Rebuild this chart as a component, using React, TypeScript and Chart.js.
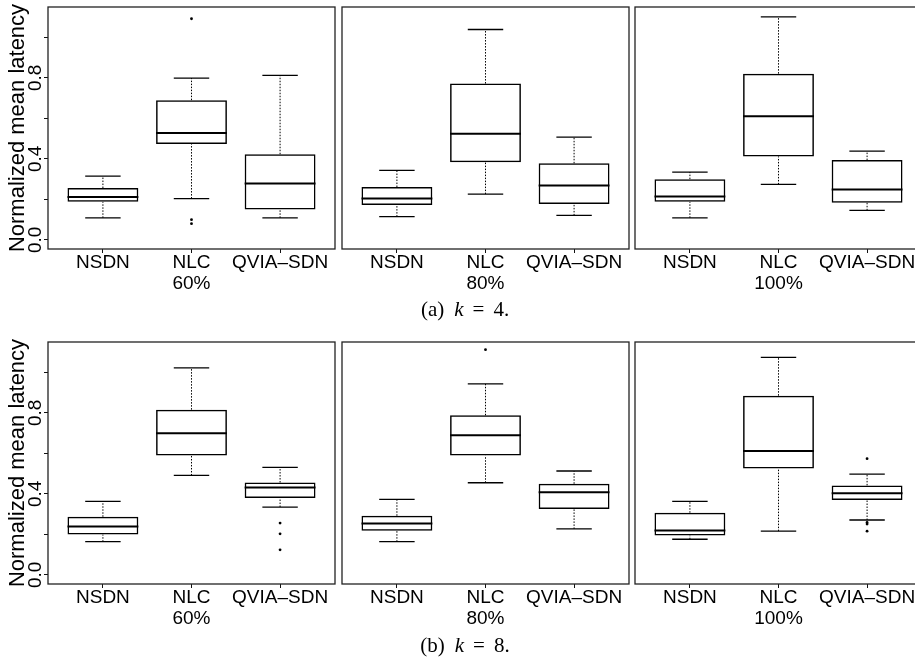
import { useEffect, useRef } from "react"
import { Chart, registerables } from "chart.js"

Chart.register(...registerables)

const SANS = "'Liberation Sans', Arial, Helvetica, sans-serif"
Chart.defaults.font.family = SANS

const groups = ["NSDN", "NLC", "QVIA–SDN"]
const loads = ["60%", "80%", "100%"]
const yTicks = [0, 0.2, 0.4, 0.6, 0.8, 1.0]
const yLabelled = [0, 0.4, 0.8]

// [lower whisker, Q1, median, Q3, upper whisker] for NSDN, NLC, QVIA-SDN
const k4_60 = [
  [0.109, 0.188, 0.212, 0.256, 0.315],
  [0.204, 0.474, 0.528, 0.69, 0.799],
  [0.109, 0.15, 0.278, 0.423, 0.812],
]
const k4_80 = [
  [0.115, 0.172, 0.204, 0.261, 0.343],
  [0.226, 0.383, 0.524, 0.772, 1.039],
  [0.121, 0.177, 0.268, 0.378, 0.507],
]
const k4_100 = [
  [0.109, 0.188, 0.214, 0.3, 0.335],
  [0.274, 0.412, 0.61, 0.821, 1.101],
  [0.146, 0.183, 0.249, 0.394, 0.438],
]
const k8_60 = [
  [0.164, 0.199, 0.239, 0.287, 0.363],
  [0.491, 0.589, 0.7, 0.816, 1.022],
  [0.335, 0.38, 0.432, 0.456, 0.531],
]
const k8_80 = [
  [0.164, 0.218, 0.254, 0.292, 0.373],
  [0.455, 0.589, 0.689, 0.788, 0.943],
  [0.227, 0.325, 0.408, 0.45, 0.513],
]
const k8_100 = [
  [0.176, 0.194, 0.219, 0.307, 0.363],
  [0.216, 0.525, 0.612, 0.885, 1.074],
  [0.271, 0.37, 0.403, 0.442, 0.498],
]

// outliers per group
const k4_60Out = [[], [1.092, 0.1, 0.08], []]
const k4_80Out = [[], [], []]
const k4_100Out = [[], [], []]
const k8_60Out = [[], [], [0.256, 0.203, 0.124]]
const k8_80Out = [[], [1.112], []]
const k8_100Out = [[], [], [0.574, 0.259, 0.251, 0.216]]

const FRAME_W = 287
const FRAME_H = 242
const PAD = 4
const PAD_TOP = 7
const AXIS_H = 50
const Y_AXIS_W = 48

interface PanelProps {
  stats: number[][]
  outliers: number[][]
  load: string
  showY: boolean
  frameLeft: number
  frameTop: number
}

function Panel({ stats, outliers, load, showY, frameLeft, frameTop }: PanelProps) {
  const ref = useRef<HTMLCanvasElement>(null)

  const canvasLeft = showY ? frameLeft - Y_AXIS_W : frameLeft - PAD
  const canvasW = (showY ? Y_AXIS_W : PAD) + FRAME_W + PAD
  const canvasTop = frameTop - PAD_TOP
  const canvasH = PAD_TOP + FRAME_H + AXIS_H

  useEffect(() => {
    if (!ref.current) return
    const ctx = ref.current.getContext("2d")
    if (!ctx) return

    // whiskers, caps, medians and the frame
    const boxParts = {
      id: "boxParts",
      afterDatasetsDraw(chart: any) {
        const { ctx, chartArea } = chart
        const x = chart.scales.x
        const y = chart.scales.y
        const unit = x.getPixelForValue(2) - x.getPixelForValue(1)
        ctx.save()
        ctx.strokeStyle = "#000"
        stats.forEach((s, i) => {
          const cx = x.getPixelForValue(i + 1)
          ctx.lineWidth = 1
          ctx.setLineDash([1.5, 1.5])
          ctx.beginPath()
          ctx.moveTo(cx, y.getPixelForValue(s[0]))
          ctx.lineTo(cx, y.getPixelForValue(s[1]))
          ctx.moveTo(cx, y.getPixelForValue(s[3]))
          ctx.lineTo(cx, y.getPixelForValue(s[4]))
          ctx.stroke()
          ctx.setLineDash([])
          ctx.lineWidth = 1.3
          ctx.beginPath()
          for (const v of [s[0], s[4]]) {
            const py = y.getPixelForValue(v)
            ctx.moveTo(cx - unit * 0.2, py)
            ctx.lineTo(cx + unit * 0.2, py)
          }
          ctx.stroke()
          ctx.lineWidth = 2
          ctx.beginPath()
          const my = y.getPixelForValue(s[2])
          ctx.moveTo(cx - unit * 0.4, my)
          ctx.lineTo(cx + unit * 0.4, my)
          ctx.stroke()
        })
        ctx.lineWidth = 1.3
        ctx.strokeStyle = "#222"
        ctx.strokeRect(chartArea.left, chartArea.top, chartArea.width, chartArea.height)
        ctx.restore()
      },
    }

    const chart = new Chart(ctx, {
      type: "bar",
      data: {
        datasets: [
          {
            type: "bar",
            data: stats.map((s, i) => ({ x: i + 1, y: [s[1], s[3]] })) as any,
            backgroundColor: "rgba(255,255,255,0)",
            borderColor: "#000",
            borderWidth: 1.5,
            borderSkipped: false,
            barPercentage: 0.8,
            categoryPercentage: 1,
          },
          {
            type: "scatter",
            data: outliers.flatMap((vals, i) => vals.map((v) => ({ x: i + 1, y: v }))) as any,
            pointRadius: 1.4,
            backgroundColor: "#000",
            borderWidth: 0,
          },
        ],
      },
      options: {
        responsive: false,
        animation: false,
        events: [],
        layout: {
          padding: { left: showY ? 0 : PAD, right: PAD, top: PAD_TOP, bottom: 0 },
        },
        plugins: {
          legend: { display: false },
          tooltip: { enabled: false },
        },
        scales: {
          x: {
            type: "linear",
            min: 0.38,
            max: 3.62,
            offset: false,
            afterBuildTicks: (s: any) => {
              s.ticks = groups.map((_, i) => ({ value: i + 1 }))
            },
            afterFit: (s: any) => {
              s.height = AXIS_H
            },
            ticks: {
              autoSkip: false,
              maxRotation: 0,
              minRotation: 0,
              padding: -1,
              color: "#000",
              font: { size: 19, lineHeight: 1.1 },
              callback: (v: any) => {
                const i = Number(v) - 1
                return i === 1 ? [groups[i], load] : groups[i]
              },
            },
            grid: {
              offset: false,
              drawOnChartArea: false,
              drawTicks: true,
              tickLength: 4,
              color: "#111",
              lineWidth: 1,
            },
            border: { display: false },
          },
          y: {
            type: "linear",
            display: showY,
            min: -0.045,
            max: 1.15,
            afterBuildTicks: (s: any) => {
              s.ticks = yTicks.map((v) => ({ value: v }))
            },
            afterFit: (s: any) => {
              s.width = showY ? Y_AXIS_W : 0
            },
            ticks: {
              autoSkip: false,
              minRotation: 90,
              maxRotation: 90,
              crossAlign: "center",
              padding: -5,
              color: "#000",
              font: { size: 19 },
              callback: (v: any) => (yLabelled.includes(Number(v)) ? Number(v).toFixed(1) : ""),
            },
            grid: {
              drawOnChartArea: false,
              drawTicks: true,
              tickLength: 4,
              color: "#111",
              lineWidth: 1,
            },
            border: { display: false },
            title: {
              display: true,
              text: "Normalized mean latency",
              color: "#000",
              font: { size: 22 },
              padding: { top: 4.8, bottom: 0 },
            },
          },
        },
      },
      plugins: [boxParts],
    })

    return () => {
      chart.destroy()
    }
  }, [stats, outliers, load, showY])

  return (
    <canvas
      ref={ref}
      width={canvasW}
      height={canvasH}
      style={{ position: "absolute", left: canvasLeft, top: canvasTop, width: canvasW, height: canvasH }}
    />
  )
}

function Caption({ tag, k, top }: { tag: string; k: string; top: number }) {
  return (
    <div
      style={{
        position: "absolute",
        left: 365,
        width: 200,
        top,
        textAlign: "center",
        fontFamily: "'Liberation Serif', 'Times New Roman', serif",
        fontSize: 21,
        lineHeight: "22px",
        color: "#000",
        whiteSpace: "nowrap",
      }}
    >
      <span style={{ marginRight: 10 }}>({tag})</span>
      <i>k</i>
      <span style={{ margin: "0 9px" }}>=</span>
      <span>{k}.</span>
    </div>
  )
}

const panelLefts = [48, 342, 635]
const rowTops = [7, 342]

export default function App() {
  const rows = [
    { stats: [k4_60, k4_80, k4_100], out: [k4_60Out, k4_80Out, k4_100Out] },
    { stats: [k8_60, k8_80, k8_100], out: [k8_60Out, k8_80Out, k8_100Out] },
  ]
  return (
    <div
      style={{
        position: "absolute",
        left: 0,
        top: 0,
        width: 915,
        height: 660,
        overflow: "hidden",
        background: "#fff",
      }}
    >
      {rows.map((row, r) =>
        row.stats.map((stats, c) => (
          <Panel
            key={`${r}-${c}`}
            stats={stats}
            outliers={row.out[c]}
            load={loads[c]}
            showY={c === 0}
            frameLeft={panelLefts[c]}
            frameTop={rowTops[r]}
          />
        )),
      )}
      <Caption tag="a" k="4" top={298} />
      <Caption tag="b" k="8" top={634} />
    </div>
  )
}
